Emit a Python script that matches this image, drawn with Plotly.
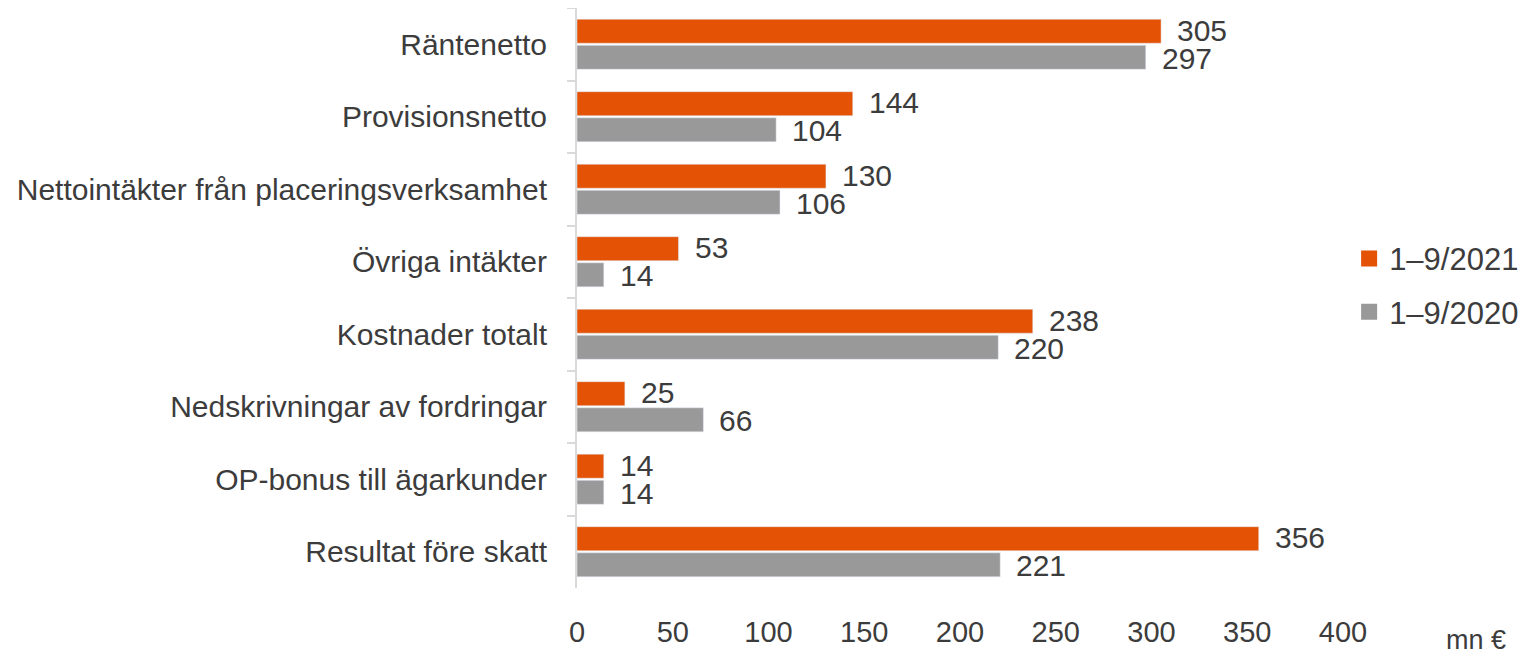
import plotly.graph_objects as go

categories = ["Räntenetto", "Provisionsnetto", "Nettointäkter från placeringsverksamhet",
              "Övriga intäkter", "Kostnader totalt", "Nedskrivningar av fordringar",
              "OP-bonus till ägarkunder", "Resultat före skatt"]
values_2021 = [305, 144, 130, 53, 238, 25, 14, 356]
values_2020 = [297, 104, 106, 14, 220, 66, 14, 221]
series_names = ["1–9/2021", "1–9/2020"]
colors = ["#E35205", "#999999"]
x_ticks = [0, 50, 100, 150, 200, 250, 300, 350, 400]

FONT = "Liberation Sans"
TXT = "#3c3c3c"

fig = go.Figure()
for vals, name, col in zip([values_2021, values_2020], series_names, colors):
    fig.add_trace(go.Bar(y=categories, x=vals, name=name, orientation="h",
                         marker=dict(color=col), showlegend=False))
# legend entries with larger square swatches
for i, (name, col) in enumerate(zip(series_names, colors)):
    fig.add_trace(go.Scatter(x=[None], y=[None], mode="markers", name=name,
                             legendgroup=str(i),
                             marker=dict(symbol="square", size=16, color=col)))

# value labels, placed from the data through the axes
annotations = []
for vals, shift in [(values_2021, 14), (values_2020, -14)]:
    for cat, v in zip(categories, vals):
        annotations.append(dict(x=v, y=cat, xref="x", yref="y", text=str(v),
                                showarrow=False, xanchor="left", yanchor="middle",
                                xshift=14, yshift=shift,
                                font=dict(size=30, color=TXT, family=FONT)))
annotations.append(dict(text="mn €", x=1.174, y=-0.09, xref="paper", yref="paper",
                        xanchor="center", yanchor="middle", showarrow=False,
                        font=dict(size=27, color=TXT, family=FONT)))

# page body has an 8px margin, so figure sits at (8, 8)
fig.update_layout(
    width=1524, height=649,
    margin=dict(l=569, r=189, t=0, b=69, autoexpand=False),
    barmode="group", bargap=0.28, bargroupgap=0.08,
    plot_bgcolor="white", paper_bgcolor="white",
    font=dict(family=FONT, size=30, color=TXT),
    legend=dict(x=1.008, y=0.522, xanchor="left", yanchor="middle",
                font=dict(size=31, color=TXT, family=FONT), itemwidth=30,
                tracegroupgap=10),
    showlegend=True,
    annotations=annotations,
)
fig.update_xaxes(range=[0, 400], tickvals=x_ticks, showgrid=False, zeroline=False,
                 showline=False, ticks="", tickfont=dict(size=29, color=TXT),
                 ticklabelstandoff=24)
fig.update_yaxes(autorange="reversed", showline=True, linecolor="#d9d9d9", linewidth=2,
                 ticks="outside", tickson="boundaries", ticklen=8, tickcolor="#d9d9d9",
                 tickwidth=2, showgrid=False, tickfont=dict(size=30, color=TXT),
                 ticklabelstandoff=22)

fig.write_html("out.html")
